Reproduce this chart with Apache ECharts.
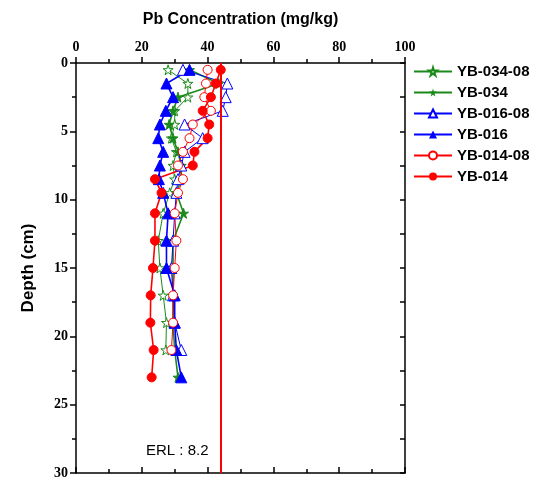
<!DOCTYPE html>
<html>
<head>
<meta charset="utf-8">
<script src="https://cdn.jsdelivr.net/npm/echarts@6/dist/echarts.min.js"></script>
<style>
html, body { margin: 0; padding: 0; background: #fff; }
#main { width: 542px; height: 483px; }
</style>
</head>
<body>
<div id="main"></div>
<script>
// depth (cm) of each sample
var depths = [0.5, 1.5, 2.5, 3.5, 4.5, 5.5, 6.5, 7.5, 8.5, 9.5, 11, 13, 15, 17, 19, 21, 23];

// Pb concentration (mg/kg), null = no sample
var yb03408 = [28, 34, 34, 30, 30, 29, 30.5, 29.5, 30, 28.5, 26.5, 25, 25.5, 26.5, 27.5, 27.3, null];
var yb034   = [34.5, 43.4, 31, 29.5, 28.3, 29.5, 31, 32, 32, 30.5, 32.7, 29.5, 29.5, 29.5, 29.5, 30, 31];
var yb01608 = [32.5, 46, 45.5, 44.6, 33, 38.5, 33, 32, 31, 30.5, 30, 29.5, 29, 29.5, 30, 32, null];
var yb016   = [34.5, 27.5, 29.5, 27.3, 25.5, 25, 26.5, 25.5, 25.2, 26.5, 28, 27.5, 27.5, 30, 30, 30.5, 32];
var yb01408 = [40, 39.5, 39, 41, 35.5, 34.5, 32.5, 31, 32.5, 31, 30, 30.5, 30, 29.5, 29.5, 29, null];
var yb014   = [44, 42.5, 41, 38.5, 40.5, 40, 36, 35.5, 24, 26, 24, 24, 23.4, 22.7, 22.6, 23.6, 23];

var erlValue = 44;   // position of red ERL line
var erlText = 'ERL : 8.2';

var star = 'path://M50,0 L61,35 L98,35 L68,57 L79,91 L50,70 L21,91 L32,57 L2,35 L39,35 Z';

function pts(vals) {
    var out = [];
    for (var i = 0; i < vals.length; i++) {
        if (vals[i] != null) out.push([vals[i], depths[i]]);
    }
    return out;
}

function mk(name, vals, color, symbol, size, hollow) {
    return {
        name: name,
        type: 'line',
        data: pts(vals),
        symbol: symbol,
        symbolSize: size,
        showAllSymbol: true,
        lineStyle: { color: color, width: hollow ? 1 : 1.6 },
        itemStyle: hollow ? { color: '#fff', borderColor: color, borderWidth: 1 } : { color: color, borderColor: color },
        emphasis: { disabled: true },
        z: 3
    };
}

var myChart = echarts.init(document.getElementById('main'));

var series = [
    mk('YB-034-08', yb03408, '#1a8a1a', star, 10, true),
    mk('YB-034', yb034, '#1a8a1a', star, 10, false),
    mk('YB-016-08', yb01608, '#0000ff', 'triangle', 11, true),
    mk('YB-016', yb016, '#0000ff', 'triangle', 11, false),
    mk('YB-014-08', yb01408, '#ff0000', 'circle', 9, true),
    mk('YB-014', yb014, '#ff0000', 'circle', 9, false)
];
// ERL line
series[5].markLine = {
    silent: true,
    symbol: 'none',
    label: { show: false },
    lineStyle: { color: '#ff0000', width: 2, type: 'solid' },
    data: [{ xAxis: erlValue }]
};

var tickFont = { fontFamily: 'Liberation Serif', fontWeight: 'bold', fontSize: 14, color: '#000' };
var blackLine = { color: '#000', width: 1.5 };

option = {
    backgroundColor: '#fff',
    animation: false,
    grid: { left: 76, top: 63, width: 329, height: 410 },
    legend: {
        orient: 'vertical',
        left: 408,
        top: 59,
        itemGap: 6,
        itemWidth: 38,
        itemHeight: 10,
        textStyle: { fontFamily: 'Liberation Sans', fontWeight: 'bold', fontSize: 15, color: '#000' },
        data: ['YB-034-08', 'YB-034', 'YB-016-08', 'YB-016', 'YB-014-08', 'YB-014']
    },
    xAxis: [
        {
            type: 'value', position: 'top', min: 0, max: 100, interval: 20,
            name: 'Pb Concentration (mg/kg)', nameLocation: 'middle', nameGap: 35,
            nameTextStyle: { fontFamily: 'Liberation Sans', fontWeight: 'bold', fontSize: 16, color: '#000' },
            axisLine: { onZero: false, lineStyle: blackLine },
            axisTick: { inside: false, length: 6, lineStyle: blackLine },
            minorTick: { show: true, splitNumber: 2, length: 4, lineStyle: blackLine },
            axisLabel: Object.assign({ margin: 9 }, tickFont),
            splitLine: { show: false }
        },
        {
            type: 'value', position: 'bottom', min: 0, max: 100, interval: 20,
            axisLine: { onZero: false, lineStyle: blackLine },
            axisTick: { inside: true, length: 6, lineStyle: blackLine },
            minorTick: { show: true, splitNumber: 2, length: 4, lineStyle: blackLine },
            axisLabel: { show: false },
            splitLine: { show: false }
        }
    ],
    yAxis: [
        {
            type: 'value', inverse: true, min: 0, max: 30, interval: 5,
            name: 'Depth (cm)', nameLocation: 'middle', nameGap: 39, nameRotate: 90,
            nameTextStyle: { fontFamily: 'Liberation Sans', fontWeight: 'bold', fontSize: 17, color: '#000' },
            axisLine: { onZero: false, lineStyle: blackLine },
            axisTick: { inside: false, length: 6, lineStyle: blackLine },
            minorTick: { show: true, splitNumber: 2, length: 4, lineStyle: blackLine },
            axisLabel: Object.assign({ margin: 8 }, tickFont),
            splitLine: { show: false }
        },
        {
            type: 'value', position: 'right', inverse: true, min: 0, max: 30, interval: 5,
            axisLine: { onZero: false, lineStyle: blackLine },
            axisTick: { inside: true, length: 5, lineStyle: blackLine },
            minorTick: { show: true, splitNumber: 2, length: 5, lineStyle: blackLine },
            axisLabel: { show: false },
            splitLine: { show: false }
        }
    ],
    graphic: [
        {
            type: 'text', left: 146, top: 443,
            style: { text: erlText, font: '15px "Liberation Sans"', fill: '#000' }
        }
    ],
    series: series
};

if (option && typeof option === "object") {
    myChart.setOption(option, true);
}
</script>
</body>
</html>
